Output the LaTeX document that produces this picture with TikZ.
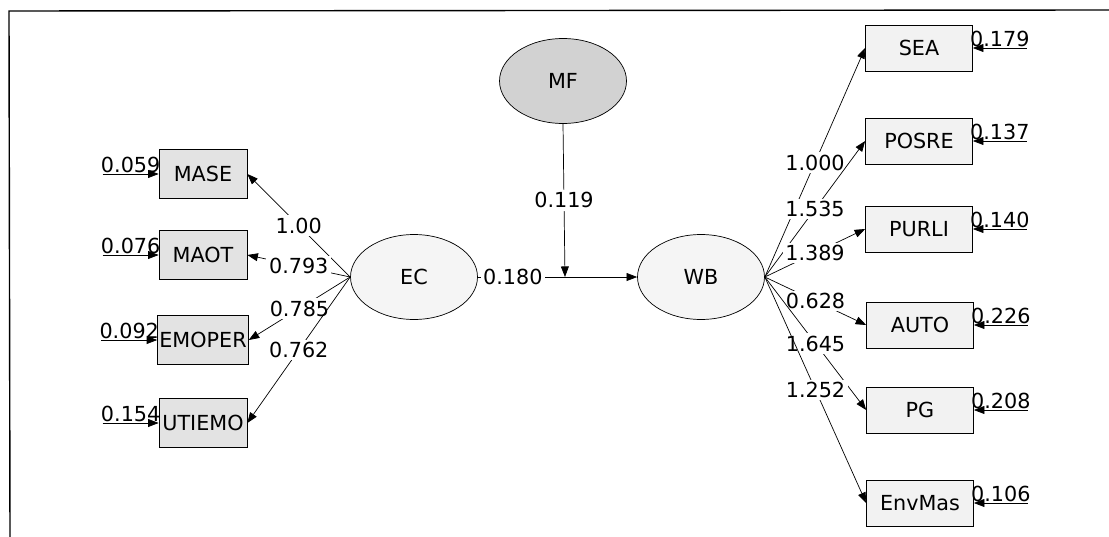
\documentclass[tikz,border=0pt]{standalone}
\usepackage{fontspec}
\setmainfont{DejaVu Sans}
\usepackage{tikz}
\usetikzlibrary{
  arrows.meta,
  shapes.geometric,
  calc
}

\tikzset{
  obsleft/.style={draw, fill=gray!22, minimum width=1.76cm, minimum height=0.98cm, inner sep=1pt},
  obsright/.style={draw, fill=gray!10, minimum width=2.14cm, minimum height=0.92cm, inner sep=1pt},
  latent/.style={draw, ellipse, fill=gray!8, minimum width=2.54cm, minimum height=1.7cm, inner sep=1pt},
  loadarrow/.style={-{Triangle[length=6pt,width=4.5pt]}},
  coef/.style={fill=white, inner sep=1.5pt},
  err/.style={above, inner sep=0.5pt}
}

\begin{document}
\begin{tikzpicture}[x=0.02cm, y=-0.02cm, font=\fontsize{11.8}{13}\selectfont]

\useasboundingbox (0,0) rectangle (1109,537);

% Frame (scanned page edge)
\draw[thick] (1109,10) -- (9,11) -- (10,537);

% Latent variables
\node[latent] (EC) at (414,277) {EC};
\node[latent] (WB) at (701,277) {WB};
\node[latent, fill=gray!35] (MF) at (563,81) {MF};

% Indicators of EC
\node[obsleft] (MASE) at (203,174) {MASE};
\node[obsleft] (MAOT) at (203,255) {MAOT};
\node[obsleft] (EMOPER) at (203,340) {EMOPER};
\node[obsleft] (UTIEMO) at (203,423) {UTIEMO};

% Indicators of WB
\node[obsright] (SEA) at (919,48) {SEA};
\node[obsright] (POSRE) at (919,141) {POSRE};
\node[obsright] (PURLI) at (919,229) {PURLI};
\node[obsright] (AUTO) at (920,325) {AUTO};
\node[obsright] (PG) at (920,410) {PG};
\node[obsright] (EnvMas) at (920,503) {EnvMas};

% Loadings
\draw[loadarrow] (EC.west) -- node[coef] {1.00} (MASE.east);
\draw[loadarrow] (EC.west) -- node[coef] {0.793} (MAOT.east);
\draw[loadarrow] (EC.west) -- node[coef] {0.785} (EMOPER.east);
\draw[loadarrow] (EC.west) -- node[coef] {0.762} (UTIEMO.east);

\draw[loadarrow] (WB.east) -- node[coef] {1.000} (SEA.west);
\draw[loadarrow] (WB.east) -- node[coef] {1.535} (POSRE.west);
\draw[loadarrow] (WB.east) -- node[coef] {1.389} (PURLI.west);
\draw[loadarrow] (WB.east) -- node[coef] {0.628} (AUTO.west);
\draw[loadarrow] (WB.east) -- node[coef] {1.645} (PG.west);
\draw[loadarrow] (WB.east) -- node[coef] {1.252} (EnvMas.west);

% Structural path and moderation
\coordinate (mod) at (565,277);
\draw[loadarrow] (EC.east) -- node[coef, pos=0.22] {0.180} (WB.west);
\draw[loadarrow] (MF.south) -- node[coef] {0.119} (mod);

% Error terms
\foreach \obs/\val in {MASE/0.059, MAOT/0.076, EMOPER/0.092, UTIEMO/0.154}
  \draw[loadarrow] ($(\obs.west)+(-56,0)$) -- node[err] {\val} (\obs.west);
\foreach \obs/\val in {SEA/0.179, POSRE/0.137, PURLI/0.140, AUTO/0.226, PG/0.208, EnvMas/0.106}
  \draw[loadarrow] ($(\obs.east)+(54,0)$) -- node[err] {\val} (\obs.east);

\end{tikzpicture}
\end{document}
